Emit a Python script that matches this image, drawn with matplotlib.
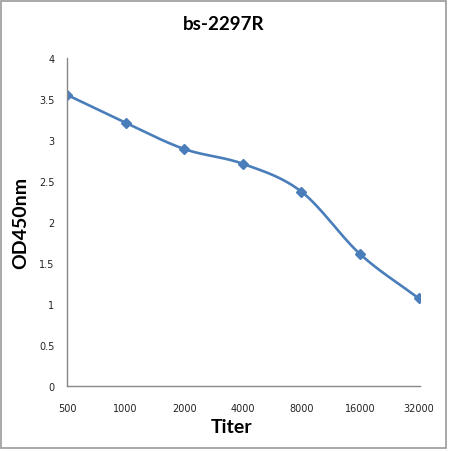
import numpy as np
import matplotlib
matplotlib.use('Agg')
import matplotlib.pyplot as plt
from matplotlib.patches import Rectangle

# data
titer = ['500', '1000', '2000', '4000', '8000', '16000', '32000']
od450 = [3.55, 3.21, 2.89, 2.71, 2.37, 1.61, 1.07]
y_ticks = [0, 0.5, 1, 1.5, 2, 2.5, 3, 3.5, 4]


def smooth(xs, ys, n=30):
    # catmull-rom through the points, like the excel smoothed line
    xs = np.asarray(xs, float)
    ys = np.asarray(ys, float)
    px = np.concatenate([[2 * xs[0] - xs[1]], xs, [2 * xs[-1] - xs[-2]]])
    py = np.concatenate([[2 * ys[0] - ys[1]], ys, [2 * ys[-1] - ys[-2]]])
    out_x, out_y = [], []
    t = np.linspace(0, 1, n)
    for i in range(1, len(px) - 2):
        for p, out in ((px, out_x), (py, out_y)):
            p0, p1, p2, p3 = p[i - 1], p[i], p[i + 1], p[i + 2]
            out.extend(0.5 * ((2 * p1) + (-p0 + p2) * t
                              + (2 * p0 - 5 * p1 + 4 * p2 - p3) * t ** 2
                              + (-p0 + 3 * p1 - 3 * p2 + p3) * t ** 3))
    return out_x, out_y


fig = plt.figure(figsize=(4.5, 4.52), dpi=100)
ax = fig.add_axes([0.149, 0.1438, 0.785, 0.7257])

x = np.arange(len(titer))
sx, sy = smooth(x, od450)
ax.plot(sx, sy, color='#4A7EBB', lw=1.9, solid_capstyle='round')
ax.plot(x, od450, ls='none', marker='D', ms=5, color='#4A7EBB')

ax.set_xlim(0, 6.03)
ax.set_ylim(0, 4)
ax.set_xticks(x)
ax.set_xticklabels(titer)
ax.set_yticks(y_ticks)
ax.set_yticklabels([f'{v:g}' for v in y_ticks])
ax.tick_params(length=0, labelsize=7, colors='#222222')
ax.tick_params(axis='x', pad=12)
ax.tick_params(axis='y', pad=9)

for s in ['top', 'right']:
    ax.spines[s].set_visible(False)
for s in ['left', 'bottom']:
    ax.spines[s].set_color('#888888')
    ax.spines[s].set_linewidth(1.0)

ax.set_xlabel('Titer', fontsize=14, fontweight='bold', family='Lato', labelpad=4, x=0.467)
ax.set_ylabel('OD450nm', fontsize=14, fontweight='bold', family='Lato', labelpad=7)
fig.text(0.497, 0.945, 'bs-2297R', ha='center', va='center',
         fontsize=13.5, fontweight='bold', family='Lato')

fig.patches.append(Rectangle((0.002, 0.006), 0.99, 0.99, transform=fig.transFigure,
                             fill=False, edgecolor='#999999', lw=1.2))

fig.savefig('out.png', dpi=100)
